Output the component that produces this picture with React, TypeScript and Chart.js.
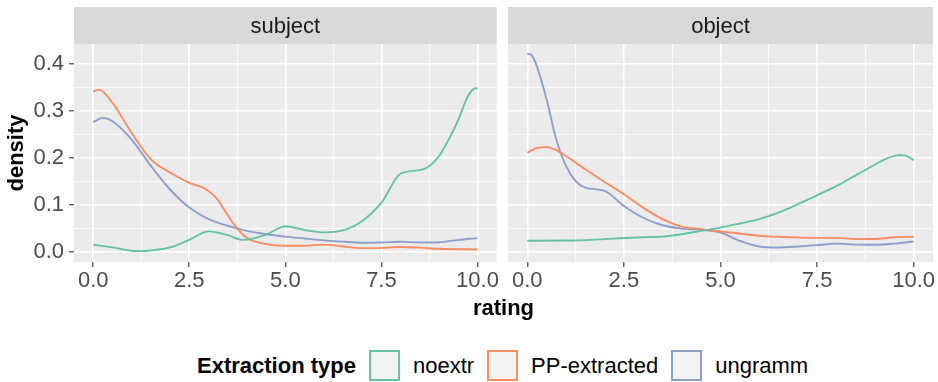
import React, { useEffect, useRef } from "react";
import { Chart, registerables } from "chart.js";

Chart.register(...registerables);

const FONT = "'Liberation Sans', Arial, Helvetica, sans-serif";

const seriesNames = ["noextr", "PP-extracted", "ungramm"];
const seriesColors = ["#66C2A5", "#FC8D62", "#8DA0CB"];
const panelNames = ["subject", "object"];

const xTicks = [0, 1.25, 2.5, 3.75, 5, 6.25, 7.5, 8.75, 10];
const yTicks = [0, 0.05, 0.1, 0.15, 0.2, 0.25, 0.3, 0.35, 0.4];

// subject panel
const subjectNoextr: [number, number][] = [
  [0, 0.0155], [0.5, 0.01], [1.0, 0.003], [1.25, 0.002], [1.5, 0.0035], [2.0, 0.01],
  [2.5, 0.026], [3.0, 0.044], [3.5, 0.036], [3.9, 0.026], [4.5, 0.037], [5.0, 0.055],
  [5.5, 0.047], [6.0, 0.042], [6.5, 0.046], [7.0, 0.066], [7.5, 0.105], [8.0, 0.167],
  [8.5, 0.174], [8.75, 0.183], [9.0, 0.204], [9.5, 0.281], [9.75, 0.331], [9.95, 0.348], [10, 0.347],
];
const subjectPP: [number, number][] = [
  [0, 0.341], [0.15, 0.345], [0.5, 0.317], [1.0, 0.253], [1.5, 0.197], [2.0, 0.169],
  [2.5, 0.147], [2.9, 0.135], [3.2, 0.115], [3.5, 0.078], [3.75, 0.05], [4.0, 0.03],
  [4.5, 0.017], [5.0, 0.0135], [5.5, 0.0135], [6.0, 0.016], [6.5, 0.012], [7.0, 0.0085],
  [7.5, 0.009], [8.0, 0.011], [8.5, 0.0095], [9.0, 0.007], [10, 0.0056],
];
const subjectUngramm: [number, number][] = [
  [0, 0.276], [0.25, 0.285], [0.5, 0.278], [1.0, 0.239], [1.5, 0.183], [2.0, 0.133],
  [2.5, 0.0945], [3.0, 0.07], [3.5, 0.056], [4.0, 0.045], [4.5, 0.038], [5.0, 0.033],
  [5.5, 0.029], [6.0, 0.025], [6.5, 0.022], [7.0, 0.02], [7.5, 0.0205], [8.0, 0.022],
  [8.5, 0.0205], [9.0, 0.021], [9.5, 0.026], [10, 0.0296],
];

// object panel
const objectNoextr: [number, number][] = [
  [0, 0.024], [1.0, 0.0247], [1.5, 0.0254], [2.0, 0.0275], [2.5, 0.03], [3.0, 0.0317],
  [3.5, 0.033], [4.0, 0.038], [4.5, 0.045], [5.0, 0.052], [5.5, 0.0607], [6.0, 0.07],
  [6.5, 0.084], [7.0, 0.1016], [7.5, 0.1206], [8.0, 0.14], [8.5, 0.163], [9.0, 0.186],
  [9.25, 0.197], [9.5, 0.2045], [9.65, 0.206], [9.85, 0.203], [10, 0.195],
];
const objectPP: [number, number][] = [
  [0, 0.211], [0.25, 0.2215], [0.5, 0.223], [0.75, 0.2166], [1.0, 0.204], [1.5, 0.176],
  [2.0, 0.149], [2.5, 0.123], [3.0, 0.0945], [3.5, 0.07], [4.0, 0.054], [4.5, 0.0487],
  [5.0, 0.0437], [5.5, 0.0395], [6.0, 0.0346], [6.5, 0.0325], [7.0, 0.031], [7.5, 0.0303],
  [8.0, 0.0303], [8.5, 0.028], [9.0, 0.028], [9.5, 0.0317], [10, 0.0325],
];
const objectUngramm: [number, number][] = [
  [0, 0.421], [0.1, 0.419], [0.25, 0.394], [0.5, 0.324], [0.75, 0.239], [1.0, 0.183],
  [1.25, 0.151], [1.5, 0.137], [2.0, 0.13], [2.5, 0.098], [3.0, 0.073], [3.5, 0.057],
  [4.0, 0.05], [4.5, 0.047], [5.0, 0.0416], [5.5, 0.024], [6.0, 0.012], [6.5, 0.0099],
  [7.0, 0.012], [7.5, 0.0148], [8.0, 0.018], [8.5, 0.016], [9.0, 0.0155], [9.5, 0.018], [10, 0.0226],
];

const panelSeries = [
  [subjectNoextr, subjectPP, subjectUngramm],
  [objectNoextr, objectPP, objectUngramm],
];

const isMajor = (v: number, step: number) => Math.abs(v / step - Math.round(v / step)) < 1e-6;

const panelPlugin = {
  id: "panelDecor",
  beforeDraw(chart: any, _args: any, opts: any) {
    const { ctx, chartArea } = chart;
    ctx.save();
    ctx.fillStyle = "#EBEBEB";
    ctx.fillRect(chartArea.left, chartArea.top, chartArea.right - chartArea.left, chartArea.bottom - chartArea.top);
    ctx.fillStyle = "#D9D9D9";
    ctx.fillRect(chartArea.left, 7, chartArea.right - chartArea.left, chartArea.top - 7);
    ctx.fillStyle = "#1A1A1A";
    ctx.font = `22px ${FONT}`;
    ctx.textAlign = "center";
    ctx.textBaseline = "middle";
    ctx.fillText(opts.text, (chartArea.left + chartArea.right) / 2, (7 + chartArea.top) / 2 + 1);
    ctx.restore();
  },
};

function makeConfig(panel: number): any {
  const first = panel === 0;
  return {
    type: "line",
    data: {
      datasets: panelSeries[panel].map((pts, i) => ({
        label: seriesNames[i],
        data: pts.map(([x, y]) => ({ x, y })),
        borderColor: seriesColors[i],
        borderWidth: 1.9,
        pointRadius: 0,
        fill: false,
        cubicInterpolationMode: "monotone",
      })),
    },
    plugins: [panelPlugin],
    options: {
      animation: false,
      responsive: false,
      maintainAspectRatio: false,
      layout: { padding: first ? { top: 44, right: 2, left: 0, bottom: 0 } : { top: 44, right: 5, left: 8, bottom: 0 } },
      plugins: {
        legend: { display: false },
        tooltip: { enabled: false },
        panelDecor: { text: panelNames[panel] },
      },
      scales: {
        x: {
          type: "linear",
          min: -0.5,
          max: 10.5,
          afterBuildTicks: (s: any) => {
            s.ticks = xTicks.map((v) => ({ value: v }));
          },
          afterFit: (s: any) => {
            s.height = 38;
          },
          border: { display: false },
          grid: {
            color: "#FFFFFF",
            lineWidth: (c: any) => (c.tick && isMajor(c.tick.value, 2.5) ? 1.6 : 0.8),
            tickColor: (c: any) => (c.tick && isMajor(c.tick.value, 2.5) ? "#333333" : "rgba(0,0,0,0)"),
            tickLength: 5,
            tickWidth: 1.1,
          },
          ticks: {
            autoSkip: false,
            maxRotation: 0,
            padding: 1,
            color: "#4D4D4D",
            font: { family: FONT, size: 22 },
            callback: (v: number) => (isMajor(v, 2.5) ? v.toFixed(1) : ""),
          },
        },
        y: {
          type: "linear",
          min: -0.021,
          max: 0.442,
          afterBuildTicks: (s: any) => {
            s.ticks = yTicks.map((v) => ({ value: v }));
          },
          afterFit: (s: any) => {
            s.width = first ? 74 : 0;
          },
          border: { display: false },
          title: first
            ? {
                display: true,
                text: "density",
                color: "#000000",
                font: { family: FONT, size: 22, weight: "bold" },
                padding: { top: 4, bottom: 0 },
              }
            : { display: false },
          grid: {
            color: "#FFFFFF",
            lineWidth: (c: any) => (c.tick && isMajor(c.tick.value, 0.1) ? 1.6 : 0.8),
            tickColor: (c: any) => (c.tick && isMajor(c.tick.value, 0.1) ? "#333333" : "rgba(0,0,0,0)"),
            tickLength: 5,
            tickWidth: 1.1,
            drawTicks: first,
          },
          ticks: {
            display: first,
            autoSkip: false,
            padding: 5,
            color: "#4D4D4D",
            font: { family: FONT, size: 22 },
            callback: (v: number) => (isMajor(v, 0.1) ? v.toFixed(1) : ""),
          },
        },
      },
    },
  };
}

function Panel({ panel, left, width }: { panel: number; left: number; width: number }) {
  const ref = useRef<HTMLCanvasElement | null>(null);
  useEffect(() => {
    if (!ref.current) return;
    const chart = new Chart(ref.current, makeConfig(panel));
    return () => chart.destroy();
  }, [panel]);
  return (
    <div style={{ position: "absolute", left, top: 0, width, height: 300 }}>
      <canvas ref={ref} width={width} height={300} style={{ width, height: 300, display: "block" }} />
    </div>
  );
}

export default function App() {
  return (
    <div
      style={{
        position: "absolute",
        left: 0,
        top: 0,
        width: 938,
        height: 382,
        background: "#FFFFFF",
        fontFamily: FONT,
        overflow: "hidden",
      }}
    >
      <Panel panel={0} left={0} width={500} />
      <Panel panel={1} left={500} width={438} />
      <div
        style={{
          position: "absolute",
          left: 74,
          width: 859,
          top: 295,
          textAlign: "center",
          fontSize: 22,
          fontWeight: "bold",
          lineHeight: "25px",
          color: "#000",
        }}
      >
        rating
      </div>
      <div
        style={{
          position: "absolute",
          left: 197,
          top: 350,
          height: 31,
          display: "flex",
          alignItems: "center",
          fontSize: 22,
          color: "#000",
          whiteSpace: "nowrap",
        }}
      >
        <span style={{ fontWeight: "bold", marginRight: 13 }}>Extraction type</span>
        {seriesNames.map((n, i) => (
          <React.Fragment key={n}>
            <span
              style={{
                display: "inline-block",
                width: 31,
                height: 31,
                boxSizing: "border-box",
                border: `2px solid ${seriesColors[i]}`,
                background: "#F2F2F2",
                marginRight: 13,
              }}
            />
            <span style={{ marginRight: 13 }}>{n}</span>
          </React.Fragment>
        ))}
      </div>
    </div>
  );
}
